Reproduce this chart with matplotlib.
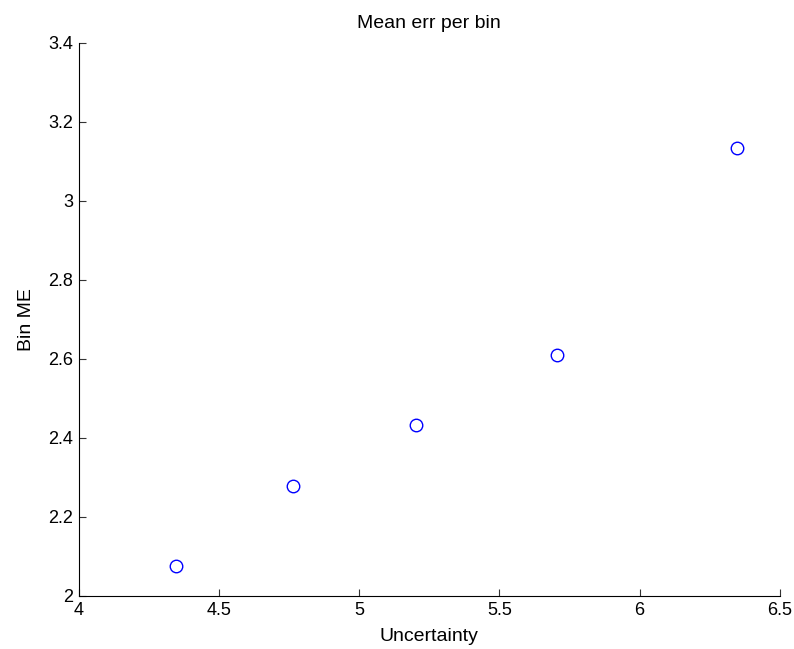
import matplotlib
matplotlib.use("Agg")
import matplotlib.pyplot as plt

# mean error per uncertainty bin
uncertainty = [4.346, 4.762, 5.203, 5.706, 6.347]
bin_me = [2.075, 2.279, 2.432, 2.609, 3.135]

plt.rcParams['font.family'] = ['Liberation Sans', 'DejaVu Sans']

fig = plt.figure(figsize=(7.94, 6.49), dpi=100)
ax = fig.add_axes([0.0995, 0.0817, 0.8825, 0.8523])

ax.plot(uncertainty, bin_me, 'o', markerfacecolor='none', markeredgecolor='blue',
        markersize=9, markeredgewidth=1)

ax.set_xlim(4, 6.5)
ax.set_ylim(2, 3.4)
ax.set_xticks([4, 4.5, 5, 5.5, 6, 6.5])
ax.set_xticklabels(['4', '4.5', '5', '5.5', '6', '6.5'])
ax.set_yticks([2, 2.2, 2.4, 2.6, 2.8, 3, 3.2, 3.4])
ax.set_yticklabels(['2', '2.2', '2.4', '2.6', '2.8', '3', '3.2', '3.4'])

ax.spines['top'].set_visible(False)
ax.spines['right'].set_visible(False)
ax.tick_params(direction='in', length=5, labelsize=13, pad=4, color='#333333')

ax.set_title('Mean err per bin', fontsize=14, pad=11)
ax.set_xlabel('Uncertainty', fontsize=14, labelpad=7)
ax.set_ylabel('Bin ME', fontsize=14, labelpad=10)

fig.savefig('out.png', dpi=100)
